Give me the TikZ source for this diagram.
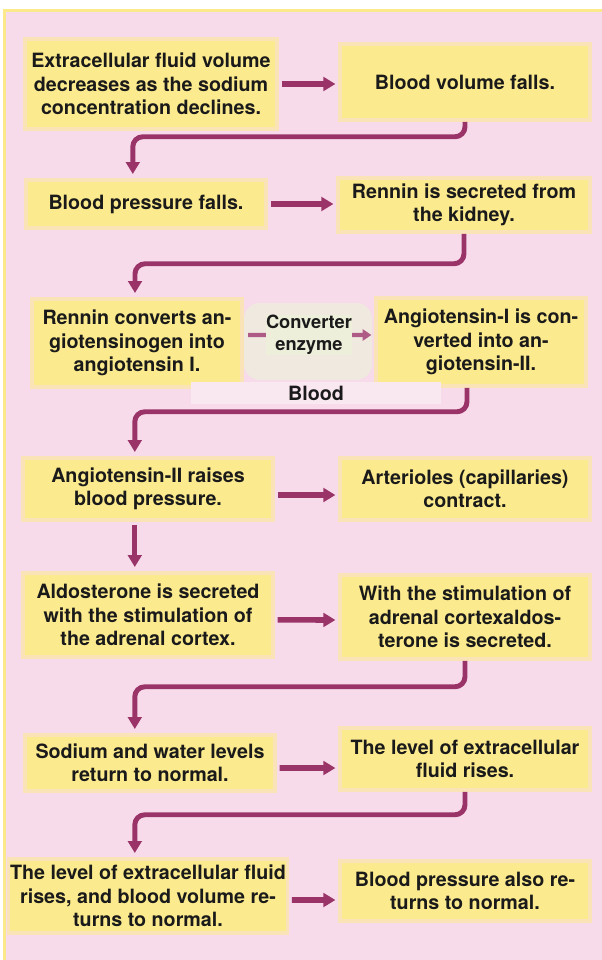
\documentclass[tikz,border=0pt]{standalone}
\usepackage{fontspec}
\setmainfont{TeX Gyre Heros}
\usetikzlibrary{arrows.meta}
\definecolor{pinkbg}{HTML}{F7DBEA}
\definecolor{frame}{HTML}{FBE98C}
\definecolor{boxy}{HTML}{FCEB8E}
\definecolor{plum}{HTML}{9A3368}
\definecolor{ink}{HTML}{1A1A1A}
\definecolor{glow}{HTML}{EDEFDA}

\begin{document}
\begin{tikzpicture}[
  x=0.025cm, y=-0.025cm,
  font=\fontsize{14}{16.6}\selectfont\bfseries,
  box/.style={fill=boxy, draw=boxy!55!pinkbg, line width=2.5pt, align=center, text=ink, inner sep=1pt},
  arrow/.style={-{Triangle[length=0.3cm,width=0.34cm]}, line width=4pt, draw=plum, shorten <=2pt, shorten >=2pt},
  elbow/.style={-{Triangle[length=0.3cm,width=0.34cm]}, line width=3.5pt, draw=plum, rounded corners=0.25cm, shorten >=3pt},
  small/.style={-{Triangle[length=0.22cm,width=0.28cm]}, line width=3pt, draw=plum!80, shorten <=3pt, shorten >=2pt},
  conv/.style={fill=glow, text=ink, align=center, inner sep=0.3pt, font=\fontsize{13}{15.5}\selectfont\bfseries},
  band/.style={fill=white!35!pinkbg, text=ink, minimum width=6.25cm, minimum height=0.55cm, inner sep=0pt},
]
\fill[white] (0,0) rectangle (602,960);
\fill[frame] (3,9) rectangle (602,960);
\fill[pinkbg] (6,12) rectangle (602,960);
\fill[glow!70!pinkbg, rounded corners=0.4cm] (244,303) rectangle (372,380);

\node[box, minimum width=6.3cm, minimum height=2.25cm] (ecf) at (151,84) {Extracellular fluid volume\\decreases as the sodium\\concentration declines.};
\node[box, minimum width=6.25cm, minimum height=1.9cm] (bvol) at (465,82) {Blood volume falls.};

\node[box, minimum width=6cm, minimum height=1.2cm] (bpfall) at (146,204) {Blood pressure falls.};
\node[box, minimum width=6.3cm, minimum height=1.35cm] (rensec) at (464,205) {Rennin is secreted from\\the kidney.};

\node[box, minimum width=5.25cm, minimum height=2.2cm] (renconv) at (137,343) {Rennin converts an-\\giotensinogen into\\angiotensin I.};
\node[box, minimum width=5.25cm, minimum height=2.2cm] (angone) at (481,342) {Angiotensin-I is con-\\verted into an-\\giotensin-II.};
\node[band] (bloodlbl) at (316,393) {Blood};

\node[box, minimum width=6.25cm, minimum height=1.55cm] (angtwo) at (148,489) {Angiotensin-II raises\\blood pressure.};
\node[box, minimum width=6.25cm, minimum height=1.55cm] (artcon) at (465,489) {Arterioles (capillaries)\\contract.};

\node[box, minimum width=6.25cm, minimum height=2.1cm] (aldo) at (148,615) {Aldosterone is secreted\\with the stimulation of\\the adrenal cortex.};
\node[box, minimum width=6.25cm, minimum height=2.1cm] (adrcor) at (465,617) {With the stimulation of\\adrenal cortexaldos-\\terone is secreted.};

\node[box, minimum width=6.25cm, minimum height=1.4cm] (sodium) at (150,763) {Sodium and water levels\\return to normal.};
\node[box, minimum width=6.25cm, minimum height=1.55cm] (ecfrise) at (465,759) {The level of extracellular\\fluid rises.};

\node[box, minimum width=6.5cm, minimum height=1.85cm] (bvolnorm) at (148,896) {The level of extracellular fluid\\rises, and blood volume re-\\turns to normal.};
\node[box, minimum width=6.25cm, minimum height=1.5cm] (bpnorm) at (465,891) {Blood pressure also re-\\turns to normal.};

% across
\draw[arrow] (ecf.east) -- (bvol.west |- ecf.east);
\draw[arrow] (bpfall.east) -- (rensec.west |- bpfall.east);
\draw[small] ([yshift=0.2cm]renconv.east) -- node[conv] (enz) {Converter\\enzyme} ([yshift=0.175cm]angone.west);
\draw[arrow] ([yshift=-0.15cm]angtwo.east) -- ([yshift=-0.15cm]artcon.west);
\draw[arrow] ([yshift=-0.12cm]aldo.east) -- ([yshift=-0.075cm]adrcor.west);
\draw[arrow] ([yshift=-0.125cm]sodium.east) -- ([yshift=-0.225cm]ecfrise.west);
\draw[arrow] ([yshift=-0.1cm]bvolnorm.east) -- ([yshift=-0.225cm]bpnorm.west);

% down
\draw[elbow] (bvol.south) -- ++(0,15) -| ([xshift=-0.33cm]bpfall.north);
\draw[elbow] (rensec.south) -- ++(0,30) -| ([xshift=-0.05cm]renconv.north);
\draw[elbow] ([xshift=-0.35cm]angone.south) -- ++(0,24) -| ([xshift=-0.33cm]angtwo.north);
\draw[elbow, shorten <=2pt] ([xshift=-0.33cm]angtwo.south) -- ([xshift=-0.33cm]aldo.north);
\draw[elbow] (adrcor.south) -- ++(0,26) -| ([xshift=-0.38cm]sodium.north);
\draw[elbow] (ecfrise.south) -- ++(0,23) -| ([xshift=-0.33cm]bvolnorm.north);
\end{tikzpicture}
\end{document}
